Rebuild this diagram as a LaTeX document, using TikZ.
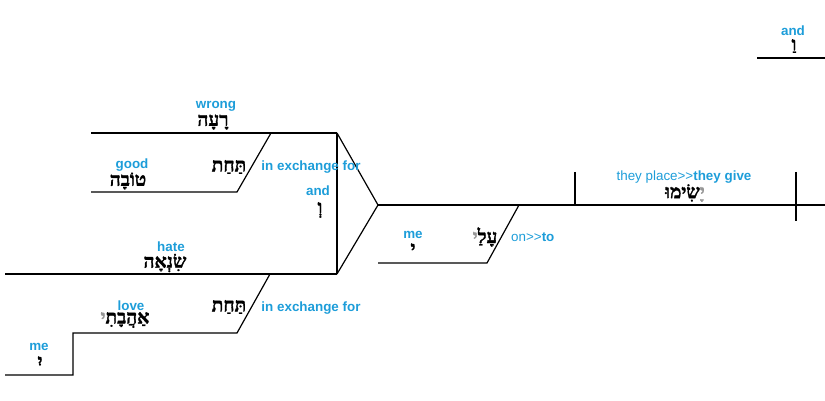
\documentclass[tikz,border=0pt]{standalone}
\usepackage{fontspec}
\setmainfont{Liberation Sans}
\newfontfamily\heb[Script=Hebrew,BoldFeatures={FakeBold=1.6}]{Liberation Serif}
\TeXXeTstate=1
\definecolor{lblue}{RGB}{29,157,217}
\definecolor{ygrey}{RGB}{150,150,150}
\newcommand{\gy}[1]{{\color{ygrey}\beginR #1\endR}}
\newcommand{\bk}[1]{{\color{black}\beginR #1\endR}}
\begin{document}
\begin{tikzpicture}[x=1pt,y=-1pt,
  base/.style={line width=1.2pt,black},
  gloss/.style={font=\fontsize{13.4}{14}\selectfont\bfseries,text=lblue,inner sep=0pt},
  glossr/.style={font=\fontsize{13.4}{14}\selectfont,text=lblue,inner sep=0pt},
  hw/.style={font=\heb\fontsize{19}{19}\selectfont\bfseries,text=black,inner sep=0pt}]
\useasboundingbox (0,0) rectangle (825,401);
% coordinates
\coordinate (a1) at (91,133);
\coordinate (a2) at (271,133);
\coordinate (a3) at (337,133);
\coordinate (b1) at (91,192);
\coordinate (b2) at (237,192);
\coordinate (c1) at (5,274);
\coordinate (c2) at (270,274);
\coordinate (c3) at (337,274);
\coordinate (d1) at (73,333);
\coordinate (d2) at (237,333);
\coordinate (e1) at (5,375);
\coordinate (e2) at (73,375);
\coordinate (apex) at (378,205);
\coordinate (m2) at (825,205);
\coordinate (v1t) at (575,172);
\coordinate (v1b) at (575,205);
\coordinate (v2t) at (796,172);
\coordinate (v2b) at (796,221);
\coordinate (f1) at (378,263);
\coordinate (f2) at (487,263);
\coordinate (f3) at (519,205);
\coordinate (g1) at (757,58);
\coordinate (g2) at (825,58);
% lines
\draw[base] (a1) -- (a3);
\draw[base] (a2) -- (b2) -- (b1);
\draw[base] (c1) -- (c3);
\draw[base] (a3) -- (c3);
\draw[base] (a3) -- (apex) -- (c3);
\draw[base] (c2) -- (d2) -- (d1) -- (e2) -- (e1);
\draw[base] (apex) -- (m2);
\draw[base] (v1t) -- (v1b);
\draw[base] (v2t) -- (v2b);
\draw[base] (f1) -- (f2) -- (f3);
\draw[base] (g1) -- (g2);
% labels
\node[gloss] (t1) at (216,106) {wrong};
\node[hw] (h1) at (213,122) {\beginR רָעָה\endR};
\node[gloss] (t2) at (132,165) {good};
\node[hw] (h2) at (128,181) {\beginR טוֹבָה\endR};
\node[hw] (h3) at (229,167) {\beginR תַּחַת\endR};
\node[gloss] (t3) at (311,167) {in exchange for};
\node[gloss] (t4) at (318,191) {and};
\node[hw] (h4) at (320,210) {\beginR וְ\endR};
\node[gloss] (t5) at (171,247) {hate};
\node[hw] (h5) at (165,263) {\beginR שִׂנְאָה\endR};
\node[hw] (h6) at (229,307) {\beginR תַּחַת\endR};
\node[gloss] (t6) at (311,308) {in exchange for};
\node[gloss] (t7) at (131,306) {love};
\node[hw] (h7) at (125,320) {\gy{י}\bk{אַהֲבָתִ}};
\node[gloss] (t8) at (39,347) {me};
\node[hw] (h8) at (40,362) {\beginR יִ\endR};
\node[gloss] (t9) at (413,235) {me};
\node[hw] (h9) at (413,249) {\beginR י\endR};
\node[hw] (h10) at (485,237) {\gy{י}\bk{עָלַ}};
\node[glossr,anchor=west] (t10) at (511,237) {on>{}>\textbf{to}};
\node[glossr] (t11) at (684,177) {they place>{}>\textbf{they give}};
\node[hw] (h11) at (685,193) {\bk{שִׂימוּ}\gy{יָ}};
\node[gloss] (t12) at (793,31) {and};
\node[hw] (h12) at (794,46) {\beginR וַ\endR};
\end{tikzpicture}
\end{document}
